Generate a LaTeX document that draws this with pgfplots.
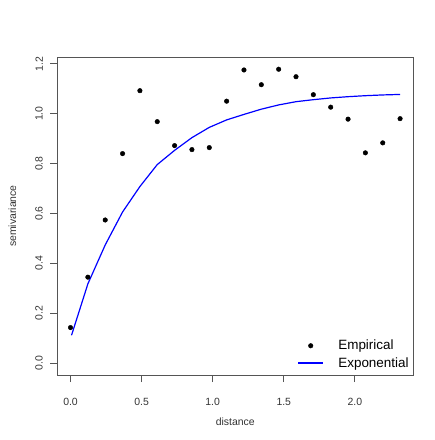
\documentclass[border=0pt]{standalone}
\usepackage{fontspec}
\setmainfont{Liberation Sans}
\usepackage{pgfplots}
\pgfplotsset{compat=1.18}

\definecolor{boxgray}{RGB}{85,85,85}

\pgfplotsset{
  linelegend/.style={legend image code/.code={\draw[blue, line width=1.5bp] (0bp,0.3bp) -- (25bp,0.3bp); \path (38bp,0bp);}},
  marklegend/.style={legend image code/.code={\fill[black] (12.5bp,0bp) circle[radius=2.3bp]; \path (0bp,0bp) (38bp,0bp);}},
}

\begin{document}
\begin{tikzpicture}
\begin{axis}[
    scale only axis,
    width=356bp, height=318bp,
    xmin=-0.093, xmax=2.411,
    ymin=-0.047, ymax=1.227,
    xtick={0,0.5,1,1.5,2},
    ytick={0,0.2,0.4,0.6,0.8,1.0,1.2},
    xtick pos=bottom, ytick pos=left,
    tick align=outside,
    major tick length=7bp,
    axis line style={boxgray, line width=0.8bp},
    every tick/.style={boxgray, line width=0.8bp},
    /pgf/number format/assume math mode=true,
    /pgf/number format/.cd, fixed, fixed zerofill, precision=1, /pgfplots/.cd,
    tick label style={font=\fontsize{10.5}{12}\selectfont, text=black!80},
    xticklabel style={yshift=-13bp},
    yticklabel style={xshift=-4bp, rotate=90, anchor=south},
    xlabel={distance},
    ylabel={semivariance},
    label style={font=\fontsize{10.5}{12}\selectfont, text=black!80},
    xlabel style={at={(axis description cs:0.5,-0.1478)}, anchor=center},
    ylabel style={at={(axis description cs:-0.1264,0.5)}, anchor=center},
    legend style={draw=none, fill=none, at={(1,0)}, anchor=south east,
        xshift=0bp, yshift=0.5bp, font=\fontsize{13.5}{16}\selectfont,
        nodes={inner sep=1.5bp, text height=11bp, text depth=3.7bp},
        row sep=0pt},
    legend cell align=left,
]
\addplot[only marks, mark=*, mark size=2.3bp, black, marklegend]
  coordinates {
    (0.000,0.143) (0.122,0.345) (0.244,0.574) (0.366,0.840) (0.488,1.092)
    (0.610,0.968) (0.732,0.872) (0.854,0.856) (0.976,0.864) (1.098,1.050)
    (1.220,1.175) (1.342,1.116) (1.464,1.178) (1.586,1.148) (1.708,1.076)
    (1.830,1.026) (1.952,0.978) (2.074,0.843) (2.196,0.883) (2.318,0.980)
  };
\addlegendentry{Empirical}
\addplot[blue, line width=1.2bp, linelegend] coordinates {
    (0.007,0.112) (0.122,0.318) (0.244,0.474) (0.366,0.606) (0.488,0.708)
    (0.610,0.796) (0.732,0.853) (0.854,0.904) (0.976,0.945) (1.098,0.975)
    (1.220,0.997) (1.342,1.018) (1.464,1.035) (1.586,1.048) (1.708,1.056)
    (1.830,1.063) (1.952,1.068) (2.074,1.072) (2.196,1.075) (2.318,1.077)
  };
\addlegendentry{Exponential}
\end{axis}
\path (current axis.south west) ++(-57.3bp,-65bp) rectangle ++(435bp,440bp);
\end{tikzpicture}
\end{document}
